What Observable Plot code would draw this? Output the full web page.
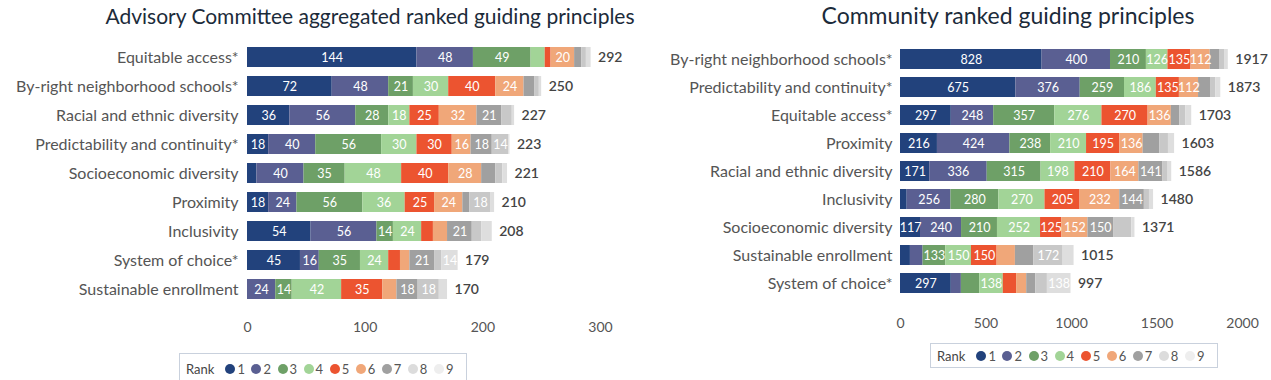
<!DOCTYPE html>
<html><head><meta charset="utf-8">
<script src="https://cdn.jsdelivr.net/npm/d3@7"></script>
<script src="https://cdn.jsdelivr.net/npm/@observablehq/plot@0.6"></script>
<style>
body{margin:0;background:#fff;font-family:Lato,"Open Sans",sans-serif;}
#wrap{position:relative;width:1271px;height:380px;overflow:hidden;background:#fff;}
.title{position:absolute;font-size:21px;color:#1c2b3a;white-space:nowrap;transform:translateX(-50%);}
.plot{position:absolute;top:0;}
.legend{position:absolute;border:1px solid #c9d1dd;display:flex;align-items:center;padding:0 6px;font-size:13px;color:#555;box-sizing:border-box;background:#fff;}
.legend .lab{color:#444;margin-right:11px;font-size:13px;}
.legend .it{display:inline-flex;align-items:center;width:27px;}
.legend .dot{width:10px;height:10px;border-radius:50%;margin-right:2px;}
</style></head>
<body>
<div id="wrap">
  <div class="title" style="left:370px;top:3px">Advisory Committee aggregated ranked guiding principles</div>
  <div class="title" style="left:1008px;top:1px;font-size:23px">Community ranked guiding principles</div>
  <div id="left" class="plot" style="left:0px"></div>
  <div id="right" class="plot" style="left:640px"></div>
  <div id="legL" class="legend" style="left:179px;top:353px;width:288px;height:32px"></div>
  <div id="legR" class="legend" style="left:930px;top:343px;width:288px;height:25px"></div>
</div>
<script>
const ranks = [1,2,3,4,5,6,7,8,9];
const rankColors = ["#22427c","#5a5f92","#6ea067","#a2d497","#ec5430","#f0a779","#a0a0a0","#c8c8c8","#dedede"];
const legendColors = ["#22427c","#5a5f92","#6ea067","#a2d497","#ec5430","#f0a779","#a0a0a0","#dcdcdc","#eeeeee"];

const advCategories = ["Equitable access*","By-right neighborhood schools*","Racial and ethnic diversity","Predictability and continuity*","Socioeconomic diversity","Proximity","Inclusivity","System of choice*","Sustainable enrollment"];
const advValues = [
  [144,48,49,12,5,20,6,4,4],
  [72,48,21,30,40,24,9,4,2],
  [36,56,28,18,25,32,21,9,2],
  [18,40,56,30,30,16,18,14,1],
  [8,40,35,48,40,28,12,6,4],
  [18,24,56,36,25,24,6,18,3],
  [54,56,14,24,10,12,21,8,9],
  [45,16,35,24,10,8,21,6,14],
  [0,24,14,42,35,12,18,18,7]
];
const advTotals = [292,250,227,223,221,210,208,179,170];
const advTicks = [0,100,200,300];

const comCategories = ["By-right neighborhood schools*","Predictability and continuity*","Equitable access*","Proximity","Racial and ethnic diversity","Inclusivity","Socioeconomic diversity","Sustainable enrollment","System of choice*"];
const comValues = [
  [828,400,210,126,135,112,58,26,22],
  [675,376,259,186,135,112,70,30,30],
  [297,248,357,276,270,136,50,35,34],
  [216,424,238,210,195,136,98,50,36],
  [171,336,315,198,210,164,141,30,21],
  [39,256,280,270,205,232,144,30,24],
  [117,240,210,252,125,152,150,107,18],
  [58,74,133,150,150,107,107,172,64],
  [297,59,107,138,78,59,53,68,138]
];
const comTotals = [1917,1873,1703,1603,1586,1480,1371,1015,997];
const comTicks = [0,500,1000,1500,2000];

function chart(cats, vals, totals, ticks, o) {
  const rows = [];
  cats.forEach((c,i) => ranks.forEach((r,j) => rows.push({cat:c, rank:r, value:vals[i][j]})));
  const tot = cats.map((c,i) => ({cat:c, total:totals[i]}));
  return Plot.plot({
    width:o.width, height:o.height,
    marginLeft:o.ml, marginRight:o.mr, marginTop:o.mt, marginBottom:o.mb,
    style:{fontFamily:"Lato, 'Open Sans', sans-serif", background:"transparent", color:"#555"},
    x:{domain:[ticks[0], ticks[ticks.length-1]], axis:null},
    y:{domain:cats, padding:o.pad, axis:null},
    color:{type:"ordinal", domain:ranks, range:rankColors},
    marks:[
      Plot.axisX({ticks:ticks, tickSize:0, tickPadding:14, fontSize:14, tickFormat:d=>String(d), label:null, fill:"#555"}),
      Plot.axisY({tickSize:0, tickPadding:o.tp, fontSize:16, label:null, fill:"#555"}),
      Plot.barX(rows, {x:"value", y:"cat", fill:"rank", z:"rank"}),
      Plot.textX(rows, Plot.stackX({x:"value", y:"cat", z:"rank", text:d => d.value >= o.min ? String(d.value) : null, fill:"white", fontSize:12.5})),
      Plot.text(tot, {x:"total", y:"cat", text:d => String(d.total), dx:7, textAnchor:"start", fill:"#444", fontSize:14, fontWeight:600})
    ]
  });
}

document.getElementById("left").append(chart(advCategories, advValues, advTotals, advTicks,
  {width:640, height:345, ml:247, mr:40, mt:37, mb:37, pad:0.313, tp:9, min:14}));
document.getElementById("right").append(chart(comCategories, comValues, comTotals, comTicks,
  {width:631, height:345, ml:260, mr:29, mt:38.5, mb:41.5, pad:0.298, tp:8, min:110}));

function legend(id) {
  const el = document.getElementById(id);
  const lab = document.createElement("span"); lab.className = "lab"; lab.textContent = "Rank"; el.append(lab);
  ranks.forEach((r,i) => {
    const it = document.createElement("span"); it.className = "it";
    const d = document.createElement("span"); d.className = "dot"; d.style.background = legendColors[i];
    const t = document.createElement("span"); t.textContent = String(r);
    it.append(d, t); el.append(it);
  });
}
legend("legL"); legend("legR");
</script>
</body></html>
